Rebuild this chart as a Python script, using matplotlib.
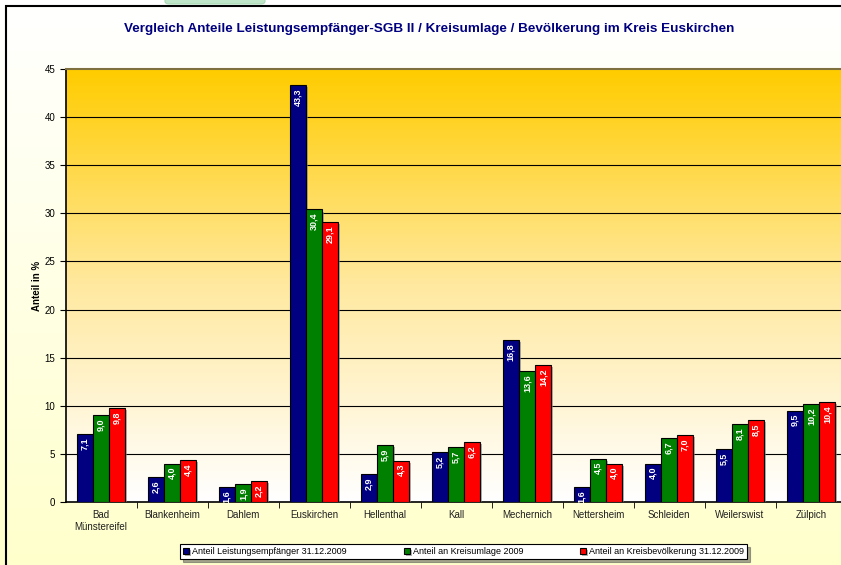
import numpy as np
import matplotlib.pyplot as plt
import matplotlib.patheffects as pe
from matplotlib.colors import LinearSegmentedColormap
from matplotlib.patches import Rectangle, FancyBboxPatch

plt.rcParams['font.family'] = ['Liberation Sans', 'DejaVu Sans']

orte = ['Bad\nMünstereifel', 'Blankenheim', 'Dahlem', 'Euskirchen', 'Hellenthal', 'Kall',
        'Mechernich', 'Nettersheim', 'Schleiden', 'Weilerswist', 'Zülpich']
leistung = [7.1, 2.6, 1.6, 43.3, 2.9, 5.2, 16.8, 1.6, 4.0, 5.5, 9.5]
umlage = [9.0, 4.0, 1.9, 30.4, 5.9, 5.7, 13.6, 4.5, 6.7, 8.1, 10.2]
bevoelk = [9.8, 4.4, 2.2, 29.1, 4.3, 6.2, 14.2, 4.0, 7.0, 8.5, 10.4]
serien = ['Anteil Leistungsempfänger 31.12.2009', 'Anteil an Kreisumlage 2009',
          'Anteil an Kreisbevölkerung 31.12.2009']
farben = ['#000080', '#008000', '#FF0000']

fig = plt.figure(figsize=(8.41, 5.65), dpi=100)

# figure background: white at the top to pale yellow at the bottom
bg = fig.add_axes([0, 0, 1, 1], zorder=-10)
bg.imshow(np.linspace(0, 1, 100).reshape(-1, 1), aspect='auto', extent=[0, 1, 0, 1],
          cmap=LinearSegmentedColormap.from_list('bg', ['#FFFFFF', '#FFFFCC']), origin='upper')
bg.add_patch(Rectangle((5.5 / 841, -0.1), 1.2, 1 - 5.5 / 565 + 0.1, fill=False,
                       edgecolor='black', lw=1.5, transform=bg.transAxes))
bg.add_patch(FancyBboxPatch((165 / 841, 1 - 4 / 565), 100 / 841, 0.05, boxstyle='round,pad=0,rounding_size=0.005',
                            facecolor='#BFE6C8', edgecolor='#A8D8B4', lw=0.8, transform=bg.transAxes))
bg.set_xlim(0, 1)
bg.set_ylim(0, 1)
bg.axis('off')

ax = fig.add_axes([65.5 / 841, 1 - 502 / 565, 781 / 841, 433 / 565])
ax.imshow(np.linspace(0, 1, 200).reshape(-1, 1), aspect='auto', extent=[-0.5, 10.5, 0, 45],
          cmap=LinearSegmentedColormap.from_list('pl', ['#FFCC00', '#FFE9A0', '#FFFFFF']),
          origin='upper', zorder=0)

x = np.arange(len(orte))
w = 0.227
for i, (werte, farbe) in enumerate(zip([leistung, umlage, bevoelk], farben)):
    pos = x + (i - 1) * w
    bars = ax.bar(pos, werte, width=w, color=farbe, edgecolor='black', lw=0.8, zorder=3,
                  label=serien[i])
    for b in bars:
        b.set_path_effects([pe.SimplePatchShadow(offset=(1.5, -1.5), shadow_rgbFace='#808080', alpha=0.6),
                            pe.Normal()])
    for p, v in zip(pos, werte):
        ax.text(p, v - 0.35, f'{v:.1f}'.replace('.', ','), rotation=90, ha='center', va='top',
                color='white', fontsize=6.5, fontweight='bold', zorder=4)

ax.set_xlim(-0.5, 10.5)
ax.set_ylim(0, 45)
ax.set_yticks(np.arange(0, 46, 5))
for yv in range(5, 45, 5):
    ax.axhline(yv, color='black', lw=0.8, zorder=1)
ax.set_xticks(x)
ax.set_xticklabels(orte, fontsize=7, color='#202020')
ax.tick_params(axis='x', length=0, pad=6)
ax.set_xticks(np.arange(0.5, 10.5, 1), minor=True)
ax.tick_params(axis='x', which='minor', length=4, direction='out', color='black')
ax.tick_params(axis='y', labelsize=7, length=4, direction='out')
ax.spines['top'].set_color('#7F7040')
ax.spines['top'].set_linewidth(1.5)
ax.spines['right'].set_visible(False)
ax.spines['left'].set_linewidth(1.2)
ax.spines['bottom'].set_linewidth(1.2)
ax.set_ylabel('Anteil in %', fontsize=7, fontweight='bold', labelpad=2)

fig.text(429 / 841, 1 - 29 / 565, 'Vergleich Anteile Leistungsempfänger-SGB II / Kreisumlage / Bevölkerung im Kreis Euskirchen',
         ha='center', va='center', fontsize=9.7, fontweight='bold', color='#000080')

leg = fig.legend(loc='center', bbox_to_anchor=(463.5 / 841, 1 - 551.5 / 565), ncol=3, fontsize=6.5,
                 frameon=True, fancybox=False, shadow=True, edgecolor='black', handlelength=0.7,
                 handleheight=0.7, columnspacing=6.3, borderpad=0.35, handletextpad=0.3)
leg.get_frame().set_linewidth(0.8)

fig.savefig('out.png', dpi=100)
